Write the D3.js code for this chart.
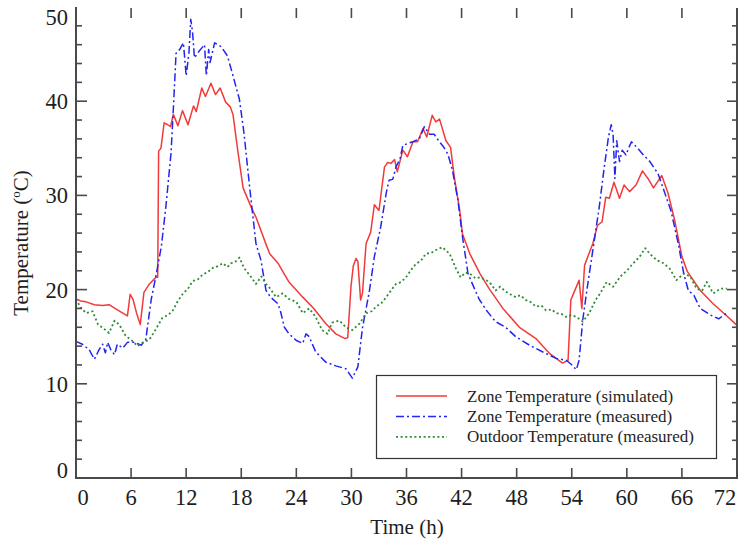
<!DOCTYPE html>
<html>
<head>
<meta charset="utf-8">
<script src="https://cdn.jsdelivr.net/npm/d3@7"></script>
<style>
  html, body { margin: 0; padding: 0; background: #ffffff; }
  svg { display: block; }
  text { font-family: "Liberation Serif", "Times New Roman", serif; fill: #1e1e1e; }
</style>
</head>
<body>
<svg id="chart" width="739" height="544"></svg>
<script>
// Zone temperature, simulated (h, °C)
const simHours = [0, 0.5, 1.1, 2.0, 2.9, 3.6, 4.6, 5.6, 5.9, 6.2, 6.6, 7.0, 7.4, 8.0, 8.7, 8.9,
  9.0, 9.25, 9.6, 10.0, 10.3, 10.6, 11.1, 11.6, 12.2, 12.8, 13.1, 13.7, 14.1, 14.7, 15.2, 15.7,
  16.3, 16.8, 17.1, 17.6, 18.2, 19.1, 19.6, 20.7, 21.1, 22.0, 23.2, 24.7, 25.9, 27.2, 28.3, 29.3,
  29.6, 29.95, 30.2, 30.5, 30.7, 31.0, 31.2, 31.6, 32.1, 32.5, 33.0, 33.6, 33.95, 34.3, 34.7, 35.0,
  35.6, 36.1, 36.7, 37.2, 37.8, 38.2, 38.8, 39.2, 39.6, 40.3, 40.8, 41.2, 41.8, 42.1, 42.9, 44.0,
  45.0, 46.5, 48.3, 50.1, 51.6, 53.0, 53.6, 53.9, 54.2, 54.8, 55.1, 55.4, 56.3, 56.8, 57.3, 57.7,
  58.1, 58.6, 59.2, 59.7, 60.3, 61.0, 61.7, 62.3, 62.9, 63.8, 64.5, 65.2, 66.0, 66.6, 68.0, 69.4,
  70.9, 72.0];
const simTemp = [19.0, 18.8, 18.7, 18.4, 18.3, 18.4, 17.8, 17.2, 19.5, 19.0, 17.5, 16.3, 19.7, 20.6, 21.3, 21.3,
  34.7, 35.0, 37.7, 37.5, 37.3, 38.6, 37.4, 39.0, 37.5, 39.5, 38.9, 41.4, 40.5, 41.9, 40.7, 41.4,
  39.9, 39.4, 38.6, 34.9, 30.8, 28.7, 27.7, 24.8, 23.8, 22.8, 20.8, 19.2, 18.0, 16.4, 15.3, 14.8,
  14.9, 20.3, 22.5, 23.3, 23.0, 18.9, 19.6, 24.9, 26.1, 29.0, 28.4, 33.0, 33.5, 33.4, 33.8, 32.5,
  34.8, 34.1, 35.7, 35.7, 37.1, 36.2, 38.5, 37.8, 38.1, 35.8, 35.1, 32.0, 28.4, 25.9, 23.8, 21.7,
  20.1, 18.0, 16.0, 14.8, 13.2, 12.2, 12.5, 18.9, 19.6, 21.0, 18.0, 22.6, 24.9, 26.8, 27.2, 29.8,
  29.7, 31.4, 29.7, 31.1, 30.4, 31.1, 32.6, 31.8, 30.8, 32.1, 30.2, 27.4, 23.5, 21.9, 19.9, 18.5,
  17.2, 16.2];

// Zone temperature, measured (h, °C)
const measHours = [0, 0.7, 1.45, 2.0, 2.5, 2.9, 3.2, 3.45, 3.8, 4.2, 4.5, 5.1, 5.6, 6.35, 7.1, 7.6,
  8.2, 8.7, 9.3, 9.8, 10.35, 10.6, 10.9, 11.3, 11.7, 12.0, 12.3, 12.5, 12.7, 12.9, 13.4, 14.0,
  14.2, 14.45, 14.6, 15.1, 15.8, 16.5, 17.1, 17.8, 18.3, 18.9, 19.6, 20.15, 20.7, 21.2, 22.0, 22.3,
  22.7, 23.2, 24.0, 24.7, 25.05, 25.4, 26.1, 27.2, 28.3, 29.4, 30.1, 30.7, 31.2, 31.95, 32.5, 33.2,
  33.8, 34.1, 34.5, 34.85, 35.3, 35.6, 36.1, 36.7, 37.4, 37.95, 38.5, 39.0, 39.5, 40.0, 40.5, 41.0,
  41.6, 42.1, 42.7, 43.4, 43.9, 44.7, 45.7, 46.8, 47.9, 49.4, 50.8, 52.3, 53.4, 53.9, 54.5, 54.8,
  55.2, 55.7, 56.3, 57.0, 57.5, 58.0, 58.3, 58.5, 58.7, 58.9, 59.2, 59.5, 59.9, 60.5, 61.1, 61.8,
  62.5, 63.4, 64.3, 64.8, 65.6, 66.2, 66.7, 67.3, 68.0, 69.1, 70.0, 70.9];
const measTemp = [14.5, 14.2, 13.6, 12.6, 13.6, 14.2, 13.3, 14.4, 13.6, 13.1, 14.2, 13.8, 14.4, 14.4, 14.1, 14.7,
  19.0, 21.4, 24.6, 28.9, 34.5, 39.1, 45.1, 45.5, 46.2, 42.7, 45.1, 48.7, 47.3, 44.6, 45.3, 46.0,
  42.7, 45.5, 44.1, 46.2, 45.8, 44.8, 42.7, 40.2, 36.6, 31.0, 24.9, 23.1, 19.9, 19.2, 18.5, 17.6,
  16.0, 15.3, 14.6, 14.3, 15.3, 15.0, 13.4, 12.3, 11.9, 11.6, 10.6, 11.8, 15.9, 19.8, 23.5, 26.7,
  30.3, 31.6, 31.7, 33.0, 33.9, 35.3, 35.5, 35.7, 36.0, 37.3, 36.5, 36.5, 35.8, 35.2, 34.4, 32.7,
  29.5, 25.6, 21.7, 20.1, 19.0, 17.8, 16.6, 16.0, 15.0, 14.1, 13.4, 12.7, 12.5, 12.1, 11.5, 12.5,
  16.8, 20.3, 24.2, 28.8, 32.7, 36.2, 37.5, 36.5, 31.8, 35.8, 33.6, 34.8, 34.3, 35.7, 35.1, 34.3,
  33.6, 32.3, 29.8, 28.4, 24.9, 21.7, 19.9, 19.4, 18.0, 17.3, 16.9, 17.5];

// Outdoor temperature, measured (h, °C)
const outHours = [0, 0.5, 1.1, 1.8, 2.4, 3.1, 3.6, 4.2, 4.7, 5.4, 6.2, 6.7, 7.3, 8.0, 8.7, 9.4,
  10.0, 10.5, 11.1, 11.6, 12.2, 12.7, 13.3, 13.8, 14.4, 14.9, 15.5, 16.0, 16.5, 16.9, 17.4, 17.8,
  18.3, 19.1, 19.6, 20.2, 20.7, 21.0, 21.8, 22.5, 23.2, 24.0, 24.7, 25.4, 26.1, 26.8, 27.4, 27.9,
  28.7, 29.4, 30.1, 30.9, 31.6, 32.2, 32.7, 33.3, 33.8, 34.3, 34.85, 35.4, 35.95, 36.5, 37.0, 37.6,
  38.1, 38.7, 39.2, 39.9, 40.7, 41.4, 41.9, 42.4, 42.9, 43.5, 44.0, 44.7, 45.2, 45.7, 46.2, 46.8,
  47.3, 47.9, 48.4, 49.0, 49.5, 50.1, 50.7, 51.2, 51.8, 52.3, 52.9, 53.4, 54.0, 54.5, 55.2, 55.9,
  56.6, 57.1, 57.8, 58.5, 59.3, 60.0, 60.7, 61.4, 62.0, 62.5, 63.3, 64.0, 64.7, 65.4, 66.2, 66.9,
  67.6, 68.2, 68.7, 69.4, 70.2, 70.9];
const outTemp = [19.0, 18.1, 17.5, 17.7, 16.3, 15.8, 15.4, 16.7, 16.3, 15.1, 14.5, 14.0, 14.4, 14.7, 15.8, 17.0,
  17.3, 17.7, 18.8, 19.5, 20.1, 20.9, 21.1, 21.6, 21.9, 22.3, 22.5, 22.8, 22.4, 22.8, 23.0, 23.4,
  22.3, 21.3, 20.6, 21.4, 20.6, 20.3, 19.2, 19.6, 19.0, 18.7, 17.5, 18.0, 17.1, 15.7, 15.3, 16.5,
  16.7, 16.0, 15.7, 16.4, 17.5, 17.7, 18.2, 18.6, 19.2, 19.9, 20.6, 20.8, 21.3, 22.1, 22.7, 23.1,
  23.8, 23.9, 24.2, 24.5, 23.8, 22.2, 21.3, 21.8, 21.7, 21.2, 21.3, 21.0, 20.6, 19.9, 20.3, 19.8,
  19.5, 19.2, 19.4, 18.9, 18.7, 18.2, 18.3, 17.8, 17.9, 17.5, 17.4, 17.1, 17.3, 17.1, 16.6, 17.5,
  18.9, 19.6, 20.8, 20.3, 21.4, 22.0, 22.8, 23.5, 24.4, 23.8, 23.1, 22.8, 22.2, 21.0, 21.7, 21.4,
  20.1, 19.9, 20.8, 19.6, 20.1, 20.1];

// Axis ticks
const xTicks = [0, 6, 12, 18, 24, 30, 36, 42, 48, 54, 60, 66, 72];
const yTicks = [0, 10, 20, 30, 40, 50];
const yMinorTicks = d3.range(0, 51, 2);

// Legend entries
const legendLabels = ["Zone Temperature (simulated)", "Zone Temperature (measured)", "Outdoor Temperature (measured)"];

const svg = d3.select("#chart");
const plotLeft = 76, plotRight = 737, plotTop = 7, plotBottom = 478;
const axisColor = "#4a4a4a";

const x = d3.scaleLinear().domain([0, 72]).range([plotLeft, plotRight]);
const y = d3.scaleLinear().domain([0, 50]).range([plotBottom, plotTop]);

const series = [
  { hours: simHours, temps: simTemp, color: "#f23a3a", dash: null, width: 1.5 },
  { hours: measHours, temps: measTemp, color: "#2424f0", dash: "8,3,2,3", width: 1.5 },
  { hours: outHours, temps: outTemp, color: "#2f8a34", dash: "2,2.6", width: 1.8 }
];

const line = d3.line().x(d => x(d[0])).y(d => y(d[1]));

// Data lines
series.forEach(s => {
  const pts = s.hours.map((h, i) => [h, s.temps[i]]);
  svg.append("path")
    .attr("d", line(pts))
    .attr("fill", "none")
    .attr("stroke", s.color)
    .attr("stroke-width", s.width)
    .attr("stroke-linejoin", "round")
    .attr("stroke-dasharray", s.dash);
});

// Frame: left, bottom and right axis lines (no top line)
const frame = svg.append("g").attr("stroke", axisColor).attr("stroke-width", 2).attr("fill", "none");
frame.append("line").attr("x1", plotLeft).attr("x2", plotLeft).attr("y1", plotTop).attr("y2", plotBottom + 1);
frame.append("line").attr("x1", plotLeft - 1).attr("x2", plotRight + 1).attr("y1", plotBottom).attr("y2", plotBottom);
frame.append("line").attr("x1", plotRight).attr("x2", plotRight).attr("y1", plotTop + 1).attr("y2", plotBottom + 1);

// Inward ticks on left and right axes
const ticks = svg.append("g").attr("stroke", axisColor).attr("stroke-width", 1.6);
yMinorTicks.forEach(v => {
  const major = v % 10 === 0;
  if (v === 0 || v === 50) return;
  ticks.append("line").attr("x1", plotLeft).attr("x2", plotLeft + (major ? 11 : 6))
    .attr("y1", y(v)).attr("y2", y(v));
  ticks.append("line").attr("x1", plotRight).attr("x2", plotRight - (major ? 10 : 5))
    .attr("y1", y(v)).attr("y2", y(v));
});
// Inward ticks on bottom and top edges
xTicks.forEach(v => {
  if (v === 0 || v === 72) return;
  ticks.append("line").attr("x1", x(v)).attr("x2", x(v)).attr("y1", plotBottom).attr("y2", plotBottom - 10);
  ticks.append("line").attr("x1", x(v)).attr("x2", x(v)).attr("y1", plotTop + 1).attr("y2", plotTop + 11);
});

// Y tick labels (end labels kept inside the axis span)
svg.append("g").selectAll("text").data(yTicks).join("text")
  .attr("x", 68)
  .attr("y", d => d === 0 ? y(d) : d === 50 ? y(d) + 18 : y(d) + 8)
  .attr("text-anchor", "end")
  .attr("font-size", 22.5)
  .text(d => d);

// X tick labels
svg.append("g").selectAll("text").data(xTicks).join("text")
  .attr("x", d => d === 0 ? x(d) + 7 : d === 72 ? x(d) - 12 : x(d))
  .attr("y", 505)
  .attr("text-anchor", "middle")
  .attr("font-size", 22.5)
  .text(d => d);

// Axis titles
svg.append("text")
  .attr("x", 407).attr("y", 534)
  .attr("text-anchor", "middle")
  .attr("font-size", 21)
  .text("Time (h)");

const yTitle = svg.append("text")
  .attr("transform", "translate(28,243) rotate(-90)")
  .attr("text-anchor", "middle")
  .attr("font-size", 21);
yTitle.append("tspan").text("Temperature (");
yTitle.append("tspan").attr("font-size", 13).attr("dy", -8).text("o");
yTitle.append("tspan").attr("dy", 8).text("C)");

// Legend
const legend = svg.append("g");
legend.append("rect")
  .attr("x", 376.5).attr("y", 375.5).attr("width", 340).attr("height", 83)
  .attr("fill", "#ffffff").attr("stroke", "#333").attr("stroke-width", 1.2);
legendLabels.forEach((label, i) => {
  const ly = 396 + i * 20.4;
  const s = series[i];
  legend.append("line")
    .attr("x1", 396).attr("x2", 447).attr("y1", ly).attr("y2", ly)
    .attr("stroke", s.color).attr("stroke-width", s.width)
    .attr("stroke-dasharray", s.dash);
  legend.append("text")
    .attr("x", 467).attr("y", ly + 5.5)
    .attr("font-size", 17)
    .text(label);
});
</script>
</body>
</html>
